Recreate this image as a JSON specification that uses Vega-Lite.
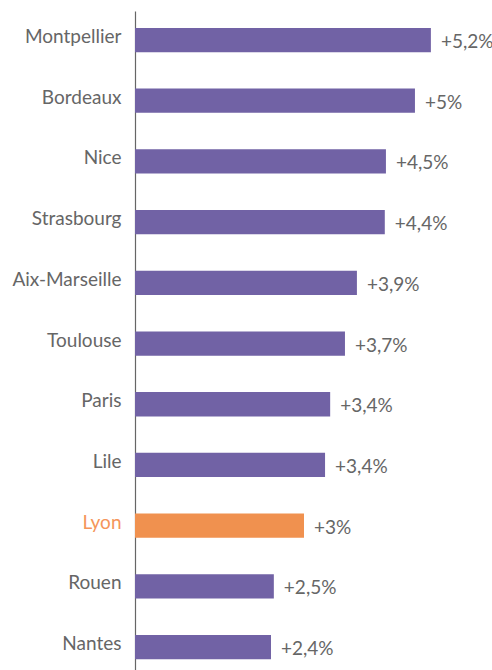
{
  "$schema": "https://vega.github.io/schema/vega-lite/v6.json",
  "autosize": {"type": "none"},
  "padding": {"left": 135, "top": 11, "right": 0, "bottom": 0},
  "width": 357,
  "height": 659,
  "config": {"view": {"stroke": null}, "font": "Lato"},
  "data": {"values": [
    {"ville": "Montpellier", "valeur": 5.2, "label": "+5,2%", "highlight": "non"},
    {"ville": "Bordeaux", "valeur": 4.92, "label": "+5%", "highlight": "non"},
    {"ville": "Nice", "valeur": 4.41, "label": "+4,5%", "highlight": "non"},
    {"ville": "Strasbourg", "valeur": 4.39, "label": "+4,4%", "highlight": "non"},
    {"ville": "Aix-Marseille", "valeur": 3.9, "label": "+3,9%", "highlight": "non"},
    {"ville": "Toulouse", "valeur": 3.69, "label": "+3,7%", "highlight": "non"},
    {"ville": "Paris", "valeur": 3.43, "label": "+3,4%", "highlight": "non"},
    {"ville": "Lile", "valeur": 3.34, "label": "+3,4%", "highlight": "non"},
    {"ville": "Lyon", "valeur": 2.97, "label": "+3%", "highlight": "oui"},
    {"ville": "Rouen", "valeur": 2.44, "label": "+2,5%", "highlight": "non"},
    {"ville": "Nantes", "valeur": 2.39, "label": "+2,4%", "highlight": "non"}
  ]},
  "encoding": {
    "y": {
      "field": "ville", "type": "nominal", "sort": null,
      "scale": {"paddingInner": 0.6, "paddingOuter": 0.228, "align": 0.61},
      "axis": {
        "title": null, "ticks": false, "domainColor": "#666666", "domainWidth": 1.2,
        "labelFont": "Lato", "labelFontSize": 19, "labelFontWeight": 400,
        "labelColor": {"condition": {"test": "datum.value === 'Lyon'", "value": "#F5955A"}, "value": "#666666"},
        "labelPadding": 14, "labelOffset": -3, "labelLimit": 200
      }
    },
    "x": {
      "field": "valeur", "type": "quantitative",
      "scale": {"domain": [0, 6.274], "nice": false, "zero": true},
      "axis": null
    }
  },
  "layer": [
    {
      "mark": {"type": "bar"},
      "encoding": {
        "color": {
          "field": "highlight", "type": "nominal",
          "scale": {"domain": ["non", "oui"], "range": ["#7162A5", "#F0914F"]},
          "legend": null
        }
      }
    },
    {
      "mark": {"type": "text", "align": "left", "baseline": "middle", "dx": 10, "dy": 2, "font": "Lato", "fontSize": 19, "fontWeight": 400, "color": "#666666"},
      "encoding": {"text": {"field": "label"}}
    }
  ]
}
